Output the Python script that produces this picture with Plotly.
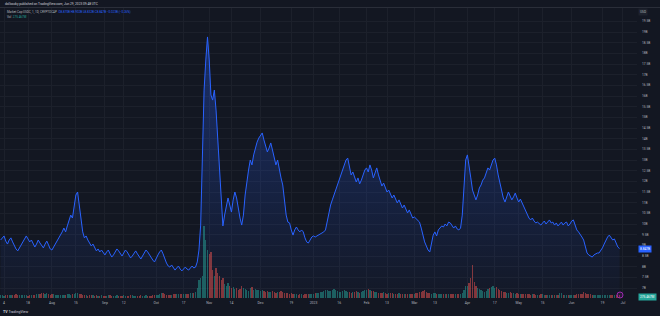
import pandas as pd
import plotly.graph_objects as go

# ---------------- data (daily, 2022-07-02 .. 2023-06-29) ----------------
start_date = "2022-07-02"

cap_jul22 = [9.25, 9.35, 9.44, 9.20, 9.06, 9.25, 9.35, 9.16, 8.97, 8.83, 8.74, 8.88, 9.02, 9.20, 9.35,
             9.44, 9.30, 9.16, 9.25, 9.11, 8.92, 9.06, 9.25, 9.11, 8.97, 8.88, 9.06, 9.20, 9.02, 8.83]
cap_aug22 = [8.78, 8.92, 9.06, 9.20, 9.35, 9.44, 9.63, 9.81, 9.63, 9.91, 10.19, 10.42, 10.28, 10.89, 11.36,
             11.50, 10.89, 10.09, 9.63, 9.35, 9.44, 9.25, 9.11, 8.97, 9.06, 8.88, 8.74, 8.83, 8.69, 8.78, 8.64]
cap_sep22 = [8.55, 8.69, 8.78, 8.60, 8.45, 8.55, 8.69, 8.83, 8.74, 8.60, 8.50, 8.64, 8.78, 8.69, 8.55,
             8.41, 8.50, 8.64, 8.74, 8.60, 8.45, 8.36, 8.50, 8.64, 8.78, 8.69, 8.55, 8.41, 8.31, 8.22]
cap_oct22 = [8.41, 8.55, 8.69, 8.78, 8.60, 8.36, 8.17, 8.03, 7.98, 8.08, 7.94, 7.84, 7.94, 8.03, 7.89,
             7.80, 7.89, 7.98, 7.89, 7.84, 7.94, 8.03, 7.94, 7.98, 8.22, 8.78, 9.95, 13.47, 16.28, 17.69, 18.77]
cap_nov22 = [17.69, 16.05, 15.81, 16.28, 15.34, 13.94, 12.30, 10.89, 9.91, 10.42, 10.89, 11.22, 10.89, 10.56, 11.13,
             11.50, 11.22, 10.66, 10.28, 9.95, 10.42, 11.36, 12.06, 12.53, 13.00, 12.77, 13.24, 13.56, 13.84, 14.03]
cap_dec22 = [14.17, 14.27, 13.94, 13.70, 13.38, 13.56, 13.80, 13.47, 13.09, 12.77, 13.00, 12.53, 12.16, 11.83, 11.13,
             10.42, 10.09, 10.05, 9.72, 9.48, 9.72, 9.86, 9.72, 9.63, 9.72, 9.63, 9.35, 9.16, 9.11, 9.25, 9.39]
cap_jan23 = [9.44, 9.39, 9.44, 9.48, 9.53, 9.58, 9.63, 9.72, 10.09, 10.56, 10.89, 11.13, 11.36, 11.69, 11.83,
             12.06, 12.30, 12.53, 12.77, 13.00, 13.09, 12.63, 12.30, 12.44, 12.16, 11.97, 12.16, 11.88, 12.06, 12.30, 12.53]
cap_feb23 = [12.63, 12.44, 12.77, 12.53, 12.16, 12.44, 12.63, 12.30, 11.97, 11.78, 11.92, 11.69, 11.50, 11.59,
             11.41, 11.22, 11.36, 11.17, 10.99, 11.13, 10.89, 10.75, 10.89, 10.66, 10.52, 10.66, 10.42, 10.28]
cap_mar23 = [10.33, 10.24, 10.19, 10.09, 9.81, 9.44, 9.16, 8.97, 8.78, 8.69, 9.02, 9.48, 9.63, 9.44, 9.72,
             9.81, 9.91, 9.86, 10.00, 9.91, 10.09, 10.05, 9.95, 9.81, 9.91, 9.77, 9.72, 9.81, 10.42, 11.83, 13.00]
cap_apr23 = [13.24, 12.77, 12.16, 11.59, 11.31, 11.13, 11.36, 11.69, 11.83, 12.06, 12.16, 12.44, 12.63, 12.53, 12.81,
             13.00, 13.09, 12.77, 12.30, 11.92, 11.59, 11.22, 11.03, 11.31, 11.50, 11.31, 11.13, 11.27, 11.45, 11.22]
cap_may23 = [11.03, 11.17, 10.99, 10.75, 10.56, 10.42, 10.28, 10.19, 10.28, 10.14, 10.05, 10.09, 10.00, 9.95, 10.05,
             10.14, 10.00, 10.09, 10.19, 10.05, 10.09, 9.95, 10.05, 9.91, 10.00, 10.09, 9.95, 10.05, 10.09, 9.91, 10.00]
cap_jun23 = [10.14, 10.19, 9.91, 9.72, 9.63, 9.53, 9.39, 9.25, 8.88, 8.64, 8.55, 8.50, 8.45, 8.55, 8.60,
             8.64, 8.64, 8.74, 8.88, 9.06, 9.25, 9.39, 9.48, 9.35, 9.25, 9.30, 9.11, 8.92, 8.847]

vol_jul22 = [320, 280, 250, 300, 350, 310, 280, 260, 330, 380, 300, 270, 290, 340, 310,
             260, 240, 300, 280, 260, 330, 450, 420, 380, 500, 460, 400, 520, 380, 350]
vol_aug22 = [420, 380, 300, 280, 350, 330, 300, 280, 320, 380, 360, 340, 400, 450, 520,
             480, 420, 380, 300, 280, 260, 240, 300, 280, 260, 250, 280, 240, 220, 260, 240]
vol_sep22 = [230, 250, 280, 260, 240, 220, 250, 270, 230, 210, 240, 260, 230, 220, 250,
             280, 260, 240, 230, 220, 250, 270, 240, 220, 260, 240, 230, 250, 270, 260]
vol_oct22 = [280, 300, 420, 500, 460, 380, 340, 300, 320, 350, 380, 420, 400, 360, 380,
             420, 450, 400, 380, 420, 500, 550, 480, 600, 1000, 1800, 2000, 2200, 7200, 5800, 4800]
vol_nov22 = [4400, 4600, 2800, 2200, 3000, 2500, 2200, 1800, 2000, 1400, 1200, 1500, 1200, 1000, 1100,
             900, 1000, 800, 900, 1200, 1000, 900, 800, 700, 1000, 1100, 800, 900, 850, 800]
vol_dec22 = [750, 800, 700, 650, 700, 600, 650, 700, 600, 550, 600, 650, 700, 600, 550,
             500, 480, 450, 500, 420, 400, 380, 350, 400, 380, 350, 420, 450, 400, 380, 420]
vol_jan23 = [450, 500, 480, 520, 600, 650, 700, 800, 850, 750, 700, 800, 900, 850, 700,
             650, 600, 700, 800, 750, 650, 600, 550, 600, 650, 700, 600, 550, 650, 700, 800]
vol_feb23 = [850, 900, 800, 700, 750, 650, 600, 550, 500, 550, 600, 500, 450, 500,
             550, 480, 450, 400, 450, 500, 420, 400, 380, 420, 450, 400, 380, 420]
vol_mar23 = [450, 500, 550, 600, 650, 700, 800, 600, 550, 500, 450, 500, 480, 450, 420,
             400, 450, 420, 400, 380, 420, 400, 380, 400, 420, 450, 400, 380, 500, 800, 1200]
vol_apr23 = [1200, 1500, 2000, 3300, 1600, 1200, 1000, 900, 800, 700, 650, 700, 900, 1000, 1100,
             1200, 1000, 1150, 900, 800, 700, 650, 600, 550, 500, 600, 550, 500, 450, 500]
vol_may23 = [450, 420, 400, 380, 400, 420, 380, 350, 380, 400, 350, 330, 350, 380, 360,
             340, 320, 350, 330, 300, 320, 350, 330, 310, 500, 480, 350, 320, 300, 320, 300]
vol_jun23 = [300, 320, 350, 380, 400, 420, 450, 600, 500, 450, 400, 380, 350, 330, 320,
             300, 320, 350, 330, 310, 300, 290, 280, 300, 320, 300, 290, 280, 275.467]

price_ticks = [7, 7.5, 8, 8.5, 9, 9.5, 10, 10.5, 11, 11.5, 12, 12.5, 13, 13.5, 14, 14.5,
               15, 15.5, 16, 16.5, 17, 17.5, 18, 18.5, 19, 19.5]
price_tick_text = ["7B", "7.5B", "8B", "8.5B", "9B", "9.5B", "10B", "10.5B", "11B", "11.5B", "12B", "12.5B",
                   "13B", "13.5B", "14B", "14.5B", "15B", "15.5B", "16B", "16.5B", "17B", "17.5B", "18B",
                   "18.5B", "19B", "19.5B"]
date_ticks = ["2022-07-04", "2022-07-18", "2022-08-01", "2022-08-15", "2022-09-01", "2022-09-12",
              "2022-10-01", "2022-10-17", "2022-11-01", "2022-11-14", "2022-12-01", "2022-12-19",
              "2023-01-01", "2023-01-16", "2023-02-01", "2023-02-13", "2023-03-01", "2023-03-13",
              "2023-04-01", "2023-04-17", "2023-05-01", "2023-05-15", "2023-06-01", "2023-06-19",
              "2023-07-01"]
date_tick_text = ["4", "18", "Aug", "15", "Sep", "12", "Oct", "17", "Nov", "14", "Dec", "19", "2023",
                  "16", "Feb", "13", "Mar", "13", "Apr", "17", "May", "15", "Jun", "19", "Jul"]

last_value_text = "8.847B"
last_volume_text = "275.467M"

# ---------------- build ----------------
cap = (cap_jul22 + cap_aug22 + cap_sep22 + cap_oct22 + cap_nov22 + cap_dec22 +
       cap_jan23 + cap_feb23 + cap_mar23 + cap_apr23 + cap_may23 + cap_jun23)
vol = (vol_jul22 + vol_aug22 + vol_sep22 + vol_oct22 + vol_nov22 + vol_dec22 +
       vol_jan23 + vol_feb23 + vol_mar23 + vol_apr23 + vol_may23 + vol_jun23)
assert len(cap) == len(vol) == 363, (len(cap), len(vol))
dates = pd.date_range(start_date, periods=len(cap), freq="D")

UP = "rgba(38,166,154,0.5)"
DOWN = "rgba(239,83,80,0.5)"
bar_colors = [UP] + [UP if cap[i] >= cap[i - 1] else DOWN for i in range(1, len(cap))]

BG = "#131722"
GRID = "#1c202b"
TXT = "#b2b5be"
BLUE = "#2962ff"
FONT = "Roboto"

W, H = 660, 316
ML, MR, MT, MB = 0, 23, 8, 18
PW, PH = W - ML - MR, H - MT - MB


def px(x):
    return (x - ML) / PW


def py(y):
    return (H - MB - y) / PH


fig = go.Figure()
fig.add_trace(go.Bar(x=dates, y=vol, marker=dict(color=bar_colors, line=dict(width=0)),
                     width=86400000 * 0.72, yaxis="y2", hoverinfo="skip"))
fig.add_trace(go.Scatter(x=dates, y=cap, mode="lines", line=dict(color=BLUE, width=1),
                         fill="tozeroy",
                         fillgradient=dict(type="vertical", start=6.5, stop=19,
                                           colorscale=[[0, "rgba(41,98,255,0.02)"],
                                                       [1, "rgba(41,98,255,0.33)"]]),
                         yaxis="y"))

fig.update_layout(
    width=W, height=H, margin=dict(l=ML, r=MR, t=MT, b=MB, pad=0),
    paper_bgcolor=BG, plot_bgcolor=BG, showlegend=False, bargap=0,
    font=dict(family=FONT, size=3.2, color=TXT),
    xaxis=dict(type="date", range=["2022-07-01 15:00", "2023-07-09 05:00"],
               tickvals=date_ticks, ticktext=date_tick_text, showgrid=True, gridcolor=GRID,
               gridwidth=1, zeroline=False, showline=False, ticks="",
               tickfont=dict(size=3.4, color=TXT), ticklabelstandoff=2, fixedrange=True),
    yaxis=dict(side="right", range=[6.531, 20.127], tickvals=price_ticks, ticktext=price_tick_text,
               showgrid=True, gridcolor=GRID, zeroline=False, showline=False, ticks="",
               tickfont=dict(size=3.2, color=TXT), ticklabelstandoff=4),
    yaxis2=dict(overlaying="y", side="left", range=[0, 29000], visible=False),
)

# header bar
fig.add_shape(type="line", xref="paper", yref="paper", x0=px(0), x1=px(660), y0=py(7.5), y1=py(7.5),
              line=dict(color="#2a2e39", width=1))
fig.add_annotation(xref="paper", yref="paper", x=px(3), y=py(4), xanchor="left", yanchor="middle",
                   text="dollcocky published on TradingView.com, Jun 29, 2023 09:48 UTC",
                   showarrow=False, font=dict(size=3.2, color="#d1d4dc"))
fig.add_annotation(xref="paper", yref="paper", x=px(5), y=py(12), xanchor="left", yanchor="middle",
                   text=("Market Cap USDC, 1, 1D, CRYPTOCAP  "
                         f"<span style='color:{BLUE}'>O8.870B H8.902B L8.832B C{last_value_text} −0.023B (−0.26%)</span>"),
                   showarrow=False, font=dict(size=3.0, color=TXT))
fig.add_annotation(xref="paper", yref="paper", x=px(5), y=py(17), xanchor="left", yanchor="middle",
                   text=f"Vol  <span style='color:#26a69a'>{last_volume_text}</span>",
                   showarrow=False, font=dict(size=3.0, color=TXT))

# price-scale boxes
fig.add_annotation(xref="paper", yref="paper", x=px(638), y=py(12), xanchor="left", yanchor="middle",
                   text="USD", showarrow=False, bgcolor="#1e222d", borderpad=1,
                   font=dict(size=3.2, color=TXT))
fig.add_annotation(xref="paper", yref="y", x=px(638), y=cap[-1], xanchor="left", yanchor="middle",
                   text=last_value_text, showarrow=False, bgcolor=BLUE, borderpad=1,
                   font=dict(size=3.2, color="#ffffff"))
fig.add_annotation(xref="paper", yref="paper", x=px(638), y=py(297), xanchor="left", yanchor="middle",
                   text=last_volume_text, showarrow=False, bgcolor="#26a69a", borderpad=1,
                   font=dict(size=3.2, color="#ffffff"))

# event marker
fig.add_shape(type="circle", xref="paper", yref="paper", x0=px(617), x1=px(623), y0=py(298), y1=py(292),
              line=dict(color="#9c27b0", width=1), fillcolor="rgba(156,39,176,0.15)")

# TradingView logo
fig.add_annotation(xref="paper", yref="paper", x=px(1), y=py(312), xanchor="left", yanchor="middle",
                   text="<b>TV</b> TradingView", showarrow=False, font=dict(size=3.6, color="#d1d4dc"))

fig.write_html("out.html")
